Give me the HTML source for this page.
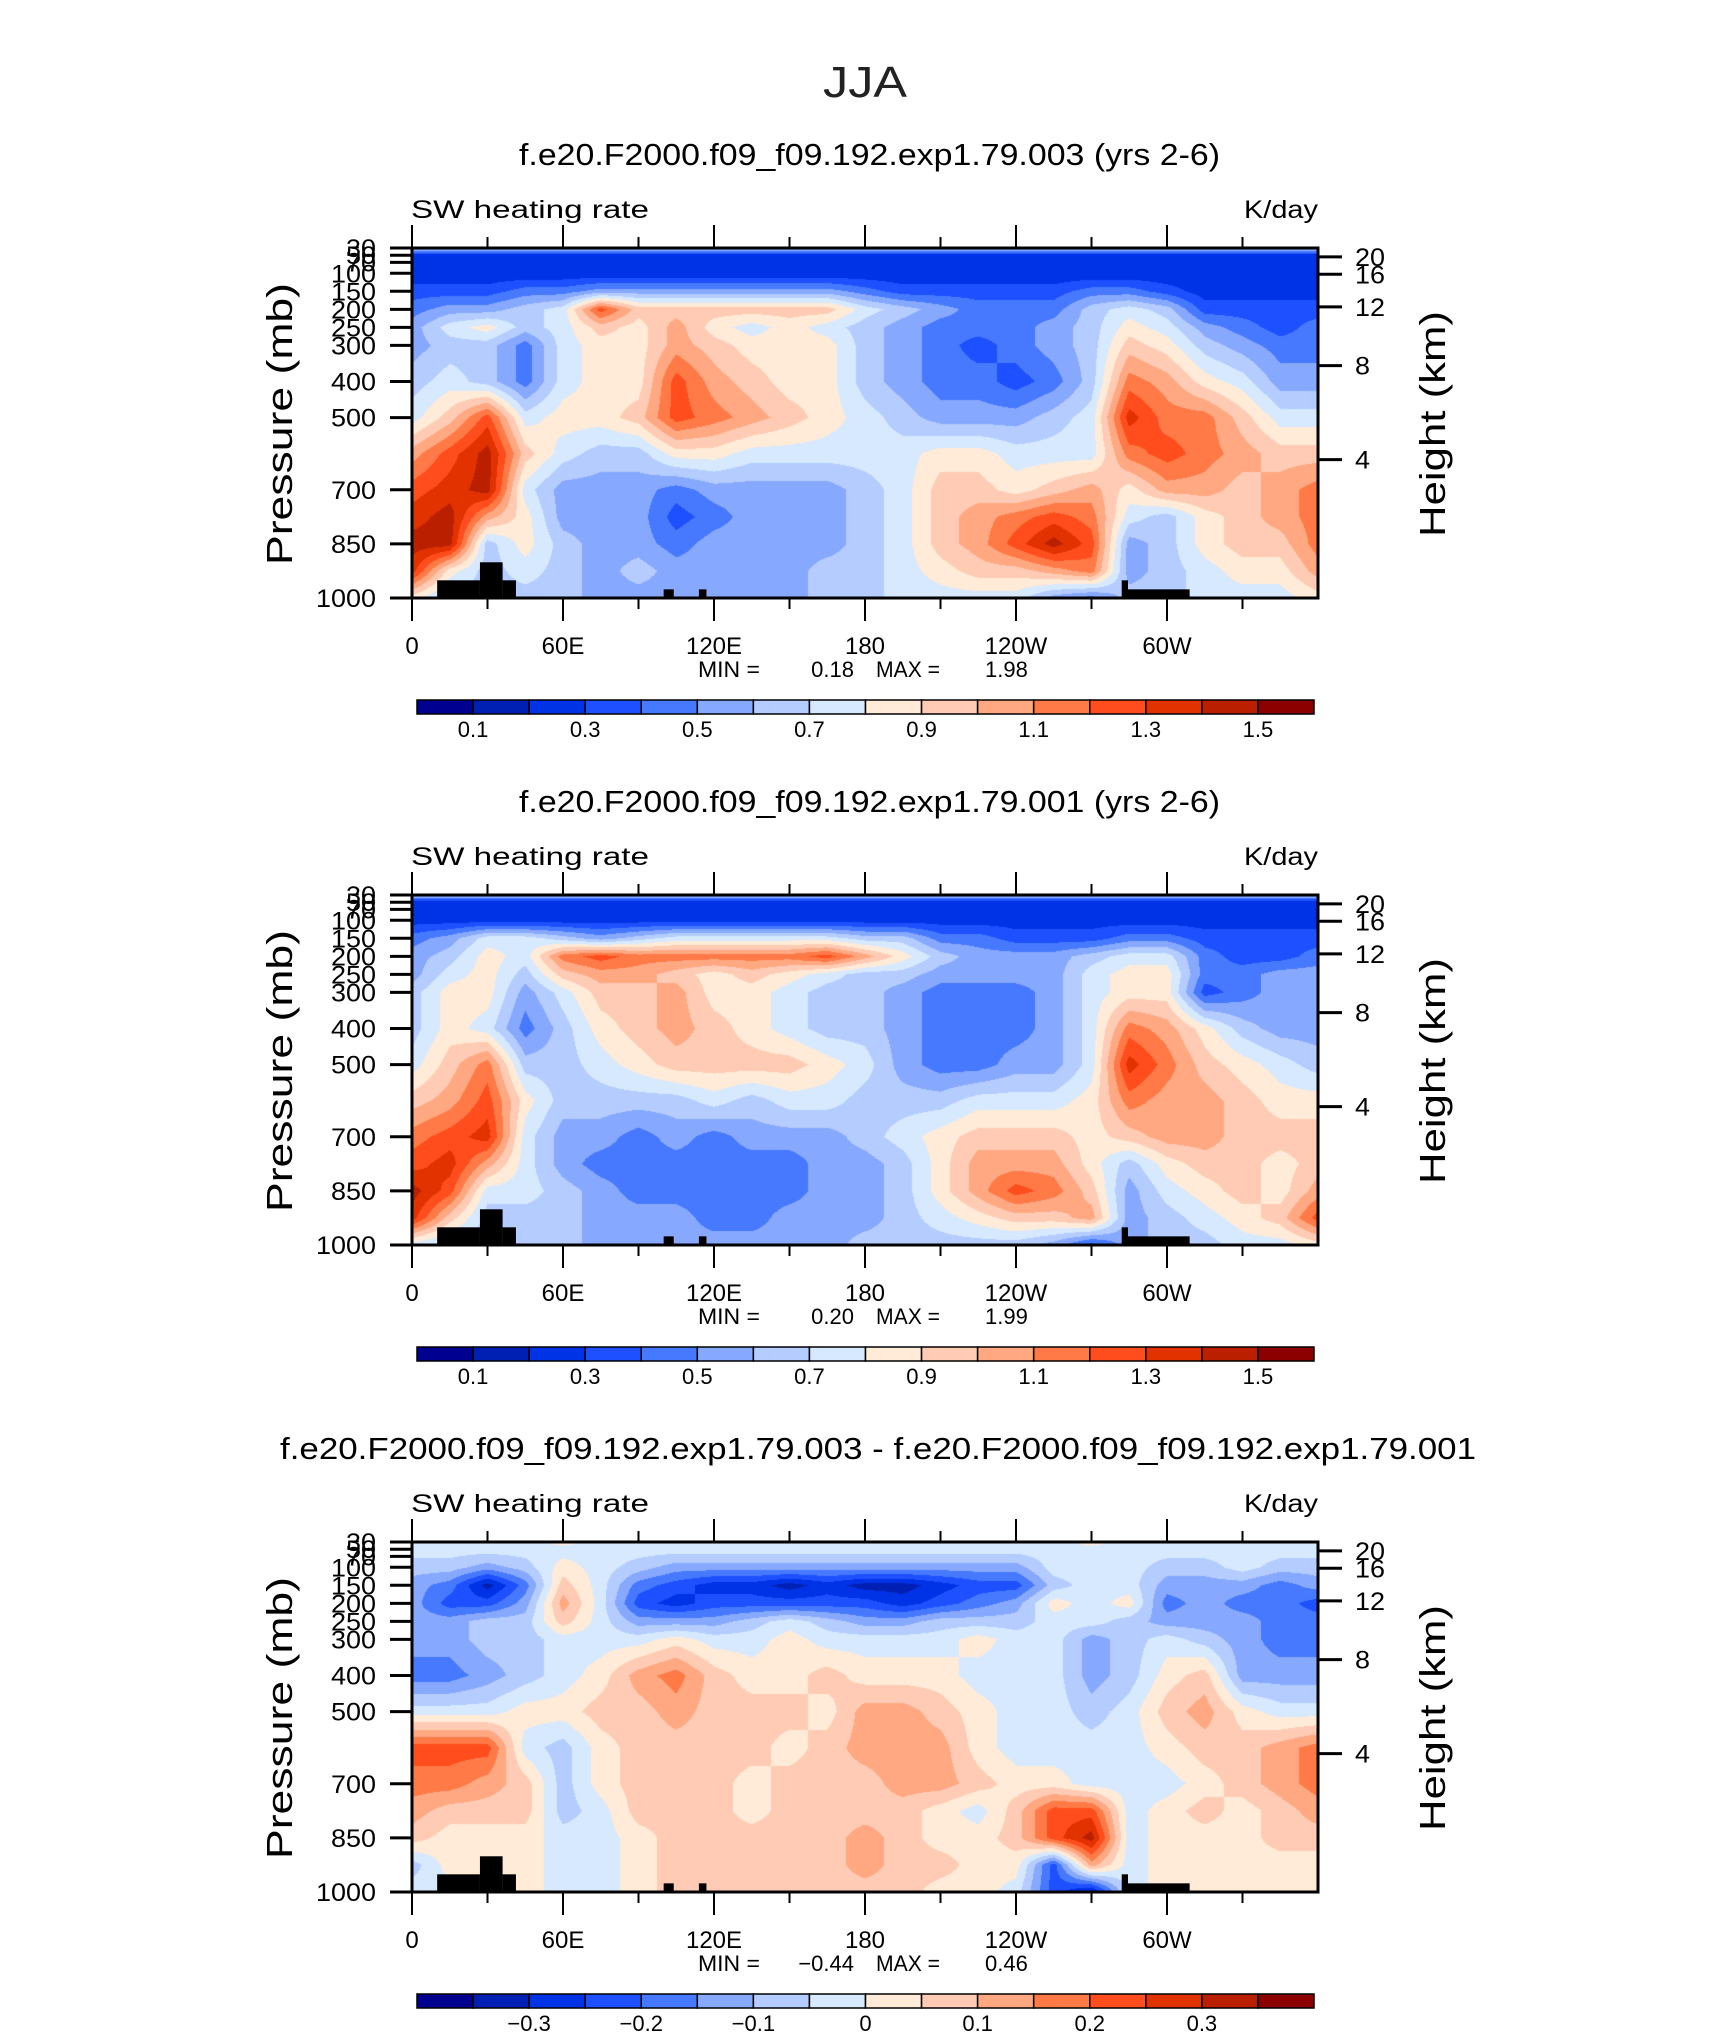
<!DOCTYPE html>
<html><head><meta charset="utf-8">
<style>
html,body{margin:0;padding:0;background:#fff;}
#root{position:relative;width:1710px;height:2038px;overflow:hidden;background:#fff;}
canvas{position:absolute;}
svg{position:absolute;left:0;top:0;}
text{font-family:"Liberation Sans",sans-serif;fill:#000;}
</style></head>
<body>
<div id="root">
<canvas id="c0" width="906" height="350" style="left:412px;top:248px"></canvas>
<canvas id="c1" width="906" height="350" style="left:412px;top:895px"></canvas>
<canvas id="c2" width="906" height="350" style="left:412px;top:1542px"></canvas>
<svg id="svg" width="1710" height="2038"></svg>
</div>
<script>
// ---- data ----
const lons = [0,15,30,45,60,75,90,105,120,135,150,165,180,195,210,225,240,255,270,285,300,315,330,345,360];
const levels = [30,50,100,150,200,250,300,400,500,600,700,775,850,925,1000];
const field1 = [
[.65,.65,.65,.65,.65,.65,.65,.65,.65,.65,.65,.65,.65,.65,.65,.65,.65,.65,.65,.65,.65,.65,.65,.65,.65],
[.25,.25,.25,.25,.25,.25,.25,.25,.25,.25,.25,.25,.25,.25,.25,.25,.25,.25,.25,.25,.25,.25,.25,.25,.25],
[.22,.22,.22,.22,.22,.22,.22,.22,.22,.22,.22,.22,.22,.22,.22,.22,.22,.22,.22,.22,.22,.22,.22,.22,.22],
[.35,.35,.35,.45,.45,.55,.55,.55,.55,.55,.55,.55,.45,.35,.35,.35,.35,.35,.45,.45,.35,.25,.25,.25,.25],
[.45,.55,.55,.65,.75,1.25,.95,.95,.95,.95,.95,.95,.75,.65,.55,.45,.45,.45,.65,.75,.65,.35,.35,.35,.35],
[.55,.75,.85,.65,.75,.95,.85,1.05,.85,.75,.85,.75,.65,.55,.45,.45,.45,.55,.65,.85,.75,.55,.45,.35,.45],
[.55,.65,.65,.45,.75,.85,.85,1.05,.95,.85,.85,.85,.65,.55,.45,.35,.45,.55,.65,.95,.85,.65,.55,.45,.45],
[.65,.75,.65,.45,.75,.85,.85,1.25,1.05,.95,.85,.85,.65,.55,.45,.45,.35,.45,.65,1.15,1.05,.85,.75,.55,.55],
[.75,.95,1.25,.75,.85,.85,.95,1.25,1.15,1.05,.95,.85,.75,.65,.55,.55,.55,.65,.75,1.35,1.15,1.15,.95,.75,.75],
[1.05,1.25,1.45,.95,.75,.65,.65,.85,.85,.75,.75,.75,.75,.75,.85,.85,.75,.75,.75,1.15,1.25,1.15,1.05,.95,.95],
[1.25,1.35,1.45,.75,.55,.55,.55,.45,.55,.55,.55,.55,.65,.75,.95,.95,.85,.95,1.05,.85,1.05,1.05,.95,1.05,1.15],
[1.35,1.45,1.05,.85,.55,.55,.55,.35,.45,.55,.55,.55,.65,.75,.95,1.05,1.15,1.25,1.15,.75,.65,.85,.95,1.05,1.15],
[1.45,1.45,.65,.85,.65,.55,.55,.45,.55,.55,.55,.55,.65,.75,.95,1.05,1.25,1.45,1.25,.55,.65,.85,.95,.95,1.15],
[1.35,.85,.65,.75,.65,.55,.65,.55,.55,.55,.55,.65,.65,.75,.85,.95,.95,1.05,1.15,.55,.65,.75,.85,.85,1.05],
[.85,.65,.65,.65,.65,.55,.55,.55,.55,.55,.55,.65,.65,.75,.75,.75,.75,.55,.45,.65,.65,.75,.75,.75,.85]
];
const field2 = [
[.65,.65,.65,.65,.65,.65,.65,.65,.65,.65,.65,.65,.65,.65,.65,.65,.65,.65,.65,.65,.65,.65,.65,.65,.65],
[.22,.22,.22,.22,.22,.22,.22,.22,.22,.22,.22,.22,.22,.22,.22,.22,.22,.22,.22,.22,.22,.22,.22,.22,.22],
[.25,.25,.25,.25,.25,.25,.25,.25,.25,.25,.25,.25,.25,.25,.25,.25,.25,.25,.25,.25,.25,.25,.25,.25,.25],
[.45,.55,.75,.75,.65,.55,.65,.75,.75,.75,.75,.75,.65,.65,.45,.45,.35,.35,.35,.45,.45,.35,.35,.35,.35],
[.55,.65,.85,.75,1.15,1.25,1.15,1.15,1.15,1.15,1.15,1.25,1.05,.85,.65,.55,.55,.55,.65,.75,.75,.45,.35,.35,.45],
[.55,.75,.85,.65,.95,1.05,1.05,.95,.85,.95,.85,.75,.65,.65,.55,.55,.55,.55,.75,.85,.85,.45,.45,.55,.55],
[.65,.85,.85,.55,.75,.95,.95,1.05,.85,.85,.75,.65,.65,.55,.45,.45,.45,.55,.75,.85,.85,.35,.45,.55,.55],
[.65,.85,.75,.45,.65,.85,.95,1.05,.95,.85,.75,.65,.65,.55,.45,.45,.45,.55,.75,1.15,1.05,.85,.65,.55,.55],
[.75,.95,1.15,.65,.65,.75,.85,.95,.95,.95,.95,.85,.75,.55,.45,.45,.55,.55,.75,1.35,1.15,.95,.85,.75,.65],
[.95,1.05,1.25,.85,.65,.65,.65,.65,.75,.65,.75,.75,.65,.65,.65,.75,.75,.75,.85,1.15,1.05,1.05,.95,.85,.85],
[1.15,1.25,1.35,.75,.55,.55,.45,.55,.45,.55,.55,.55,.65,.75,.85,.95,.95,.95,.85,.95,1.05,1.05,.95,.95,.95],
[1.25,1.35,1.05,.75,.55,.45,.45,.45,.45,.45,.45,.55,.55,.65,.85,1.05,1.05,1.05,.85,.65,.85,.95,.95,.85,.95],
[1.45,1.25,.75,.75,.65,.55,.45,.45,.45,.45,.45,.55,.55,.65,.85,1.05,1.25,1.15,.95,.55,.75,.85,.95,.85,1.05],
[1.35,.95,.65,.65,.65,.55,.55,.55,.45,.45,.55,.55,.55,.65,.75,.85,.95,.95,1.05,.55,.65,.75,.85,.95,1.25],
[.75,.65,.65,.65,.65,.55,.55,.55,.55,.55,.55,.55,.65,.65,.65,.65,.65,.55,.35,.55,.65,.65,.75,.75,.85]
];
const field3 = [
[-.025,-.025,-.025,-.025,.025,-.025,-.025,-.025,-.025,-.025,-.025,-.025,-.025,-.025,-.025,-.025,-.025,-.025,.025,-.025,-.025,-.025,-.025,-.025,-.025],
[-.025,-.025,-.025,-.025,-.025,-.025,-.025,-.025,-.025,-.025,-.025,-.025,-.025,-.025,-.025,-.025,-.025,-.025,-.025,-.025,-.025,-.025,-.025,-.025,-.025],
[-.075,-.075,-.125,-.075,.025,-.025,-.075,-.125,-.125,-.125,-.125,-.125,-.125,-.125,-.125,-.125,-.125,-.025,-.025,-.025,-.075,-.075,-.025,-.075,-.075],
[-.125,-.175,-.325,-.175,.075,-.025,-.175,-.225,-.275,-.275,-.325,-.275,-.325,-.325,-.275,-.225,-.225,-.075,-.025,-.025,-.125,-.125,-.125,-.175,-.125],
[-.125,-.225,-.225,-.125,.125,-.025,-.225,-.275,-.225,-.225,-.225,-.225,-.225,-.275,-.225,-.175,-.125,.025,-.025,.025,-.175,-.125,-.175,-.175,-.225],
[-.125,-.125,-.075,-.075,.075,-.025,-.125,-.125,-.125,-.075,-.025,-.075,-.125,-.125,-.075,-.075,-.075,-.025,-.025,-.075,-.125,-.125,-.125,-.175,-.175],
[-.125,-.125,-.075,-.075,-.025,-.025,-.025,.025,-.025,-.025,.025,-.025,-.025,-.025,-.025,.025,-.025,-.025,-.125,-.075,-.025,-.075,-.125,-.175,-.175],
[-.175,-.175,-.125,-.075,-.025,.025,.125,.175,.075,.025,.025,.075,.025,.025,.025,-.025,-.025,-.025,-.125,-.075,.025,.075,-.125,-.125,-.125],
[-.025,-.025,-.025,.025,.025,.075,.075,.125,.075,.075,.075,.025,.125,.125,.075,.025,-.025,-.025,-.075,-.025,.075,.125,.025,-.025,-.025],
[.225,.225,.225,-.025,-.075,.025,.075,.075,.075,.075,.025,.075,.125,.125,.125,.025,-.025,-.025,-.025,-.025,.025,.075,.075,.125,.175],
[.175,.175,.125,.075,-.075,.025,.075,.075,.075,.025,.075,.075,.075,.125,.125,.075,.025,.025,-.025,-.025,-.025,.025,.075,.125,.175],
[.125,.075,.075,.075,-.075,-.025,.075,.075,.075,.025,.075,.075,.075,.075,.025,-.025,.075,.225,.225,-.025,.025,.075,.025,.075,.125],
[.075,.025,.025,.025,-.025,-.025,.025,.075,.075,.075,.075,.075,.125,.075,.025,.025,.075,.225,.325,-.025,.025,.025,.025,.075,.075],
[-.075,.025,.025,.025,-.025,-.025,.025,.075,.075,.075,.075,.075,.125,.075,.075,.025,.025,-.225,.125,-.025,.025,.025,.025,.025,.025],
[-.025,-.025,.025,.025,-.025,-.025,.025,.075,.075,.075,.075,.075,.075,.075,.025,.025,-.025,-.225,-.325,-.025,.025,.025,.025,.025,.025]
];
const levelsAbs = [0.1,0.2,0.3,0.4,0.5,0.6,0.7,0.8,0.9,1.0,1.1,1.2,1.3,1.4,1.5];
const levelsDiff = [-0.35,-0.3,-0.25,-0.2,-0.15,-0.1,-0.05,0,0.05,0.1,0.15,0.2,0.25,0.3,0.35];
const cbLabelsAbs = ["0.1","0.3","0.5","0.7","0.9","1.1","1.3","1.5"];
const cbLabelsDiff = ["\u22120.3","\u22120.2","\u22120.1","0","0.1","0.2","0.3"];
const lonTicks = [0,60,120,180,240,300];
const lonTickLabels = ["0","60E","120E","180","120W","60W"];
const pTicks = [30,50,70,100,150,200,250,300,400,500,700,850,1000];
const zTicks = [4,8,12,16,20];
const topoLonStart = [10,27,36,100,114,282,284.5];
const topoLonEnd = [27,36,41.3,104,117,284.5,309];
const topoP = [951,901,951,976,976,951,976];
const minVals = ["0.18","0.20","\u22120.44"];
const maxVals = ["1.98","1.99","0.46"];
const titles = ["f.e20.F2000.f09_f09.192.exp1.79.003 (yrs 2-6)","f.e20.F2000.f09_f09.192.exp1.79.001 (yrs 2-6)","f.e20.F2000.f09_f09.192.exp1.79.003 - f.e20.F2000.f09_f09.192.exp1.79.001"];
const colors = ["#000090","#0020b4","#0032e6","#1e50ff","#4679ff","#87a8ff","#b4ccff","#d7e9ff","#ffebd8","#ffcbb4","#ffa882","#ff7a46","#ff4d1e","#e13200","#ba2000","#8c0000"];

// ---- axes ----
const PL=412, PR=1318, PH=350, OFFS=[0,647,1294];
function xLon(lon){return PL+lon/360*(PR-PL);}
function yP(p,off){return 248+off+(p-30)/970*PH;}
function zToP(z){return z<=11?1013.25*Math.pow(1-0.0225577*z,5.25588):226.32*Math.exp(-(z-11)/6.3416);}

// ---- contour fill ----
function hex(c){return [parseInt(c.substr(1,2),16),parseInt(c.substr(3,2),16),parseInt(c.substr(5,2),16)];}
const rgb=colors.map(hex);
function sample(field,lon,p){
  let i=Math.min(Math.floor(lon/15),23); let fx=(lon-lons[i])/15;
  let j=0; while(j<levels.length-2 && p>levels[j+1]) j++;
  let fy=(p-levels[j])/(levels[j+1]-levels[j]); fy=Math.max(0,Math.min(1,fy));
  const a=field[j][i],b=field[j][i+1],c=field[j+1][i],d=field[j+1][i+1];
  return (a*(1-fx)+b*fx)*(1-fy)+(c*(1-fx)+d*fx)*fy;
}
function binOf(v,lv){let k=0;while(k<lv.length&&v>=lv[k])k++;return k;}
[[field1,levelsAbs],[field2,levelsAbs],[field3,levelsDiff]].forEach((fl,n)=>{
  const cv=document.getElementById('c'+n),ctx=cv.getContext('2d');
  const img=ctx.createImageData(906,350);
  for(let y=0;y<350;y++){const p=30+(y+0.5)/350*970;
    for(let x=0;x<906;x++){const lon=(x+0.5)/906*360;
      const col=rgb[binOf(sample(fl[0],lon,p),fl[1])];const o=(y*906+x)*4;
      img.data[o]=col[0];img.data[o+1]=col[1];img.data[o+2]=col[2];img.data[o+3]=255;}}
  ctx.putImageData(img,0,0);
});

// ---- svg ----
const svg=document.getElementById('svg');const NS='http://www.w3.org/2000/svg';
function el(tag,attrs,parent){const e=document.createElementNS(NS,tag);for(const k in attrs)e.setAttribute(k,attrs[k]);(parent||svg).appendChild(e);return e;}
function txt(s,attrs,parent){const e=el('text',attrs,parent);e.textContent=s;return e;}

const jja=txt("JJA",{x:865,y:97,'text-anchor':'middle','font-size':44,textLength:84,lengthAdjust:'spacingAndGlyphs',style:'fill:#222;font-weight:normal'});



OFFS.forEach((off,n)=>{
  const g=el('g',{});
  
  
  const tl = n<2?[519,701]:[280,1196];
  const t=txt(titles[n],{x:tl[0],y:165+off,'font-size':31,textLength:tl[1],lengthAdjust:'spacingAndGlyphs'},g);
  
  
  const s1=txt("SW heating rate",{x:411,y:218+off,'font-size':25,textLength:238,lengthAdjust:'spacingAndGlyphs'},g);
  
  
  const s2=txt("K/day",{x:1318,y:218+off,'font-size':25,'text-anchor':'end',textLength:74,lengthAdjust:'spacingAndGlyphs'},g);
  
  
  // topography
  topoP.forEach((p,k)=>{
    const r=el('rect',{x:xLon(topoLonStart[k]),y:yP(p,off),width:xLon(topoLonEnd[k])-xLon(topoLonStart[k]),height:yP(1000,off)-yP(p,off),fill:'#000'},g);
    
    
  });
  // frame
  const fr=el('rect',{x:PL,y:248+off,width:PR-PL,height:PH,fill:'none',stroke:'#000','stroke-width':3},g);
  
  
  // lon ticks
  for(let lon=0;lon<360;lon+=30){
    const major=lon%60===0,len=major?23:11,x=xLon(lon);
    el('line',{x1:x,x2:x,y1:248+off,y2:248+off-len,stroke:'#000','stroke-width':2},g);
    el('line',{x1:x,x2:x,y1:598+off,y2:598+off+len,stroke:'#000','stroke-width':2},g);
  }
  lonTicks.forEach((lon,k)=>{
    const l=txt(lonTickLabels[k],{x:xLon(lon),y:654+off,'text-anchor':'middle','font-size':24},g);
    
    
  });
  pTicks.forEach(p=>{
    const y=yP(p,off);
    el('line',{x1:PL-22,x2:PL,y1:y,y2:y,stroke:'#000','stroke-width':3},g);
    const l=txt(String(p),{x:376,y:y+9,'text-anchor':'end','font-size':25,textLength:String(p).length*15,lengthAdjust:'spacingAndGlyphs'},g);
    
    
  });
  zTicks.forEach(z=>{
    const y=yP(zToP(z),off);
    el('line',{x1:PR,x2:PR+24,y1:y,y2:y,stroke:'#000','stroke-width':3},g);
    const l=txt(String(z),{x:1355,y:y+9,'font-size':25,textLength:String(z).length*15,lengthAdjust:'spacingAndGlyphs'},g);
    
    
  });
  const ya=txt("Pressure  (mb)",{x:0,y:0,'text-anchor':'middle','font-size':36,textLength:282,lengthAdjust:'spacingAndGlyphs',transform:'translate(292,'+(424+off)+') rotate(-90)'},g);
  
  
  const yb=txt("Height  (km)",{x:0,y:0,'text-anchor':'middle','font-size':36,textLength:226,lengthAdjust:'spacingAndGlyphs',transform:'translate(1445,'+(424+off)+') rotate(-90)'},g);
  
  
  // min max
  const mm=el('g',{},g);
  
  
  txt("MIN =",{x:698,y:677+off,'font-size':22,textLength:62,lengthAdjust:'spacingAndGlyphs'},mm);
  txt(minVals[n],{x:854,y:677+off,'font-size':22,'text-anchor':'end'},mm);
  txt("MAX =",{x:876,y:677+off,'font-size':22,textLength:64,lengthAdjust:'spacingAndGlyphs'},mm);
  txt(maxVals[n],{x:985,y:677+off,'font-size':22},mm);
  // colorbar
  const cb=el('g',{},g);
  
  
  const bw=(1314-417)/16;
  colors.forEach((c,k)=>{
    const r=el('rect',{x:417+k*bw,y:700+off,width:bw,height:14,fill:c,stroke:'#000','stroke-width':1.5},cb);
    
    
  });
  const labs=n<2?cbLabelsAbs:cbLabelsDiff, start=n<2?1:2;
  labs.forEach((s,k)=>{
    const l=txt(s,{x:417+(start+2*k)*bw,y:737+off,'text-anchor':'middle','font-size':22},cb);
    
    
  });
});
</script>
</body></html>
